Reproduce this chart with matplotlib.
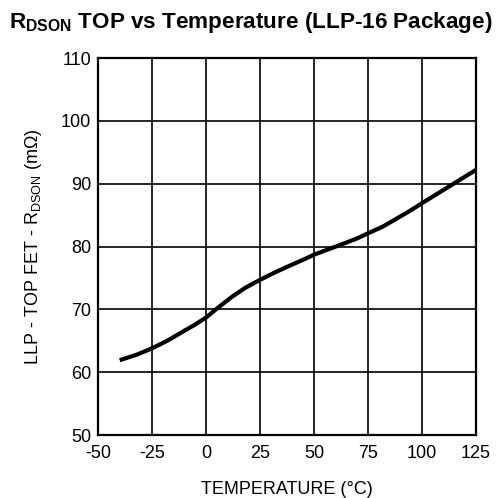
import matplotlib
matplotlib.use('Agg')
import matplotlib.pyplot as plt

plt.rcParams['font.family'] = ['Liberation Sans', 'DejaVu Sans']
plt.rcParams['axes.unicode_minus'] = False

temp = [-40, -32, -25, -18, -10, -5, 0, 6, 12, 18, 25, 32, 39, 45, 50, 57, 64, 70, 75, 82, 88, 94, 100, 108, 116, 125]
rdson = [61.9, 62.8, 63.8, 65.0, 66.6, 67.6, 68.7, 70.4, 72.0, 73.4, 74.7, 75.9, 77.0, 77.9, 78.7, 79.6, 80.5, 81.3, 82.1, 83.2, 84.4, 85.6, 86.9, 88.6, 90.3, 92.2]

xticks = [-50, -25, 0, 25, 50, 75, 100, 125]
yticks = [50, 60, 70, 80, 90, 100, 110]

fig = plt.figure(figsize=(4.98, 4.98), dpi=100)
ax = fig.add_axes([0.197, 0.1265, 0.759, 0.757])
ax.plot(temp, rdson, color='black', linewidth=3.0, solid_capstyle='butt')
ax.set_xlim(-50, 125)
ax.set_ylim(50, 110)
ax.set_xticks(xticks)
ax.set_yticks(yticks)
ax.grid(True, color='black', linewidth=1.2)
ax.tick_params(length=0, labelsize=13)
ax.tick_params(axis='x', pad=7)
ax.tick_params(axis='y', pad=5)
for s in ax.spines.values():
    s.set_linewidth(1.6)
ax.set_xlabel('TEMPERATURE (°C)', fontsize=13, labelpad=14)
ax.set_ylabel('LLP - TOP FET - R$_{\\mathregular{DSON}}$ (mΩ)', fontsize=13, labelpad=12)
fig.text(0.018, 0.955, 'R$_{\\mathregular{DSON}}$ TOP vs Temperature (LLP-16 Package)',
         fontsize=16.2, fontweight='bold', va='center', ha='left')
fig.savefig('out.png', dpi=100)
